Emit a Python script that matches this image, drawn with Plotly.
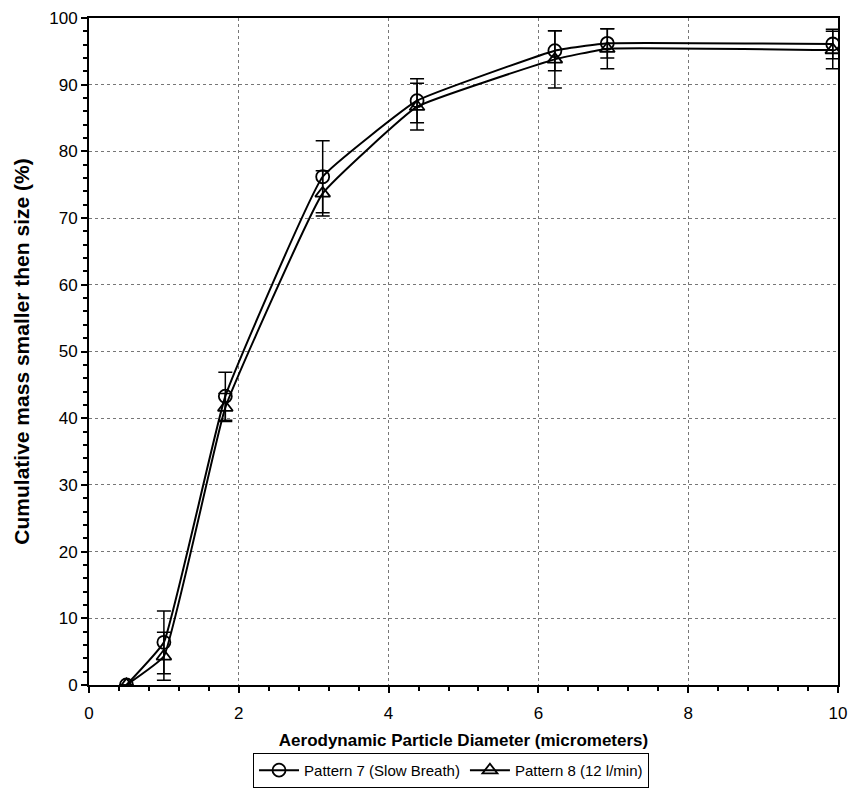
import plotly.graph_objects as go

diameter_7 = [0.5, 1.0, 1.82, 3.12, 4.38, 6.22, 6.92, 9.93]
pattern_7 = [0.0, 6.4, 43.3, 76.2, 87.6, 95.1, 96.2, 96.1]
err_7 = [0.0, 4.7, 3.6, 5.4, 3.3, 3.0, 2.2, 2.2]

diameter_8 = [0.5, 1.0, 1.82, 3.12, 4.38, 6.22, 6.92, 9.93]
pattern_8 = [0.0, 4.3, 41.6, 73.7, 86.7, 93.8, 95.4, 95.2]
err_8 = [0.0, 3.6, 2.1, 3.4, 3.5, 4.3, 3.0, 2.8]

name_7 = "Pattern 7 (Slow Breath)"
name_8 = "Pattern 8 (12 l/min)"

font = "Liberation Sans, Arial, sans-serif"

fig = go.Figure()
fig.add_trace(go.Scatter(
    x=diameter_7, y=pattern_7, name=name_7, mode="lines+markers",
    line=dict(color="black", width=2, shape="spline", smoothing=0.3),
    marker=dict(symbol="circle-open", size=13, color="black", line=dict(width=1.8)),
    error_y=dict(type="data", array=err_7, color="black", thickness=1.5, width=7),
))
fig.add_trace(go.Scatter(
    x=diameter_8, y=pattern_8, name=name_8, mode="lines+markers",
    line=dict(color="black", width=2, shape="spline", smoothing=0.3),
    marker=dict(symbol="triangle-up-open", size=13, color="black", line=dict(width=1.8)),
    error_y=dict(type="data", array=err_8, color="black", thickness=1.5, width=7),
))

fig.update_layout(
    width=849, height=791,
    margin=dict(l=89, r=11, t=18, b=106, autoexpand=False),
    paper_bgcolor="white", plot_bgcolor="white",
    font=dict(family=font, size=14, color="black"),
    showlegend=True,
    legend=dict(
        orientation="h", x=0.219, xanchor="left", y=-0.128, yanchor="middle",
        bordercolor="black", borderwidth=1, bgcolor="white",
        font=dict(family=font, size=15), itemwidth=40,
        tracegroupgap=0,
    ),
    xaxis=dict(
        range=[0, 10], dtick=2, tick0=0,
        showgrid=True, gridcolor="#777777", griddash="dot", gridwidth=1,
        showline=True, linecolor="black", linewidth=2, mirror=True,
        ticks="outside", ticklen=6, tickwidth=1.5, tickcolor="black",
        minor=dict(dtick=0.4, ticks="outside", ticklen=4, tickcolor="black", showgrid=False),
        zeroline=False, automargin=False, ticklabelstandoff=6,
        title=dict(text="<b>Aerodynamic Particle Diameter (micrometers)</b>",
                   font=dict(family=font, size=17), standoff=12),
        tickfont=dict(family=font, size=17),
    ),
    yaxis=dict(
        range=[0, 100], dtick=10, tick0=0,
        showgrid=True, gridcolor="#777777", griddash="dot", gridwidth=1,
        showline=True, linecolor="black", linewidth=2, mirror=True,
        ticks="outside", ticklen=6, tickwidth=1.5, tickcolor="black",
        minor=dict(dtick=2, ticks="outside", ticklen=4, tickcolor="black", showgrid=False),
        zeroline=False, automargin=False,
        title=dict(text="<b>Cumulative mass smaller then size (%)</b>",
                   font=dict(family=font, size=21), standoff=14),
        tickfont=dict(family=font, size=17),
    ),
)

fig.write_html("out.html")
